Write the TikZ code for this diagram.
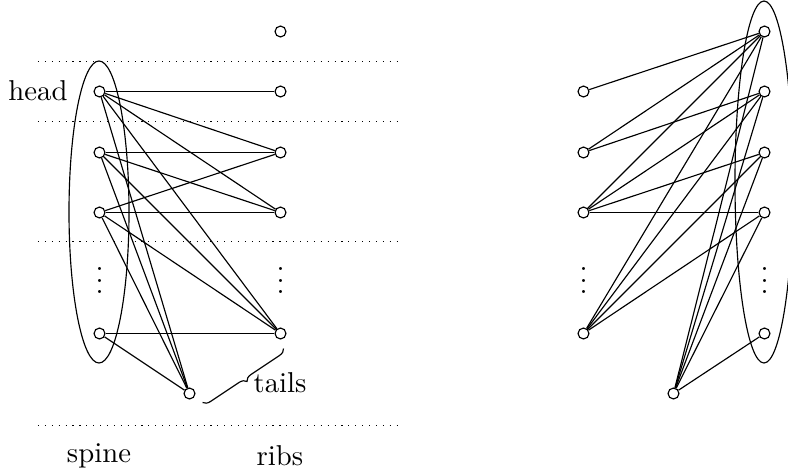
\documentclass[tikz,border=0pt]{standalone}
\usetikzlibrary{positioning,decorations.pathreplacing}

\begin{document}
\begin{tikzpicture}[x=0.348pt,y=-0.348pt,
  vtx/.style={circle,draw,fill=white,inner sep=0pt,minimum size=3.8pt},
  sep/.style={dotted},
  lbl/.style={inner sep=0pt}]

  \useasboundingbox (0,0) rectangle (788,475);

  % level separators
  \foreach \y in {61.5,121.5,241.5,425.5}
    \draw[sep] (38,\y) -- (397,\y);

  % left: spine, ribs and tail
  \foreach \i/\y in {1/91.5,2/152.5,3/212.5,4/333.5}
    \node[vtx] (ls\i) at (99.5,\y) {};
  \foreach \i/\y in {0/31.5,1/91.5,2/152.5,3/212.5,4/333.5}
    \node[vtx] (lr\i) at (280.5,\y) {};
  \node[vtx] (lt) at (189.5,393.5) {};
  \node (lsd) at (99.5,272) {$\vdots$};
  \node (lrd) at (280.5,272) {$\vdots$};

  \foreach \a/\b in {ls1/lr1,ls1/lr2,ls1/lr3,ls1/lr4,ls1/lt,
                     ls2/lr2,ls2/lr3,ls2/lr4,ls2/lt,
                     ls3/lr2,ls3/lr3,ls3/lr4,ls3/lt,
                     ls4/lr4,ls4/lt}
    \draw (\a) -- (\b);

  \draw (99,212) ellipse [x radius=30, y radius=151];

  % right: ribs, spine and tail
  \foreach \i/\y in {1/91.5,2/152.5,3/212.5,4/333.5}
    \node[vtx] (rr\i) at (583.5,\y) {};
  \foreach \i/\y in {0/31.5,1/91.5,2/152.5,3/212.5,4/333.5}
    \node[vtx] (rs\i) at (764.5,\y) {};
  \node[vtx] (rt) at (673.5,393.5) {};
  \node (rrd) at (583.5,272) {$\vdots$};
  \node (rsd) at (764.5,272) {$\vdots$};

  \foreach \a/\b in {rs0/rr1,rs0/rr2,rs0/rr3,rs0/rr4,rs0/rt,
                     rs1/rr2,rs1/rr3,rs1/rr4,rs1/rt,
                     rs2/rr3,rs2/rr4,rs2/rt,
                     rs3/rr3,rs3/rr4,rs3/rt,
                     rs4/rt}
    \draw (\a) -- (\b);

  \draw (764,182) ellipse [x radius=29, y radius=181];

  % labels
  \node[lbl] (headlbl) at (38,91) {head};
  \draw[decorate,decoration={brace,amplitude=2.5pt}]
    ([shift={(3,15)}]lr4.center) -- ([shift={(13,9)}]lt.center);
  \node[lbl,anchor=west] (tailslbl) at (253,383) {tails};
  \node[lbl] (spinelbl) at (99,456) {spine};
  \node[lbl] (ribslbl) at (280,456) {ribs};

\end{tikzpicture}
\end{document}
